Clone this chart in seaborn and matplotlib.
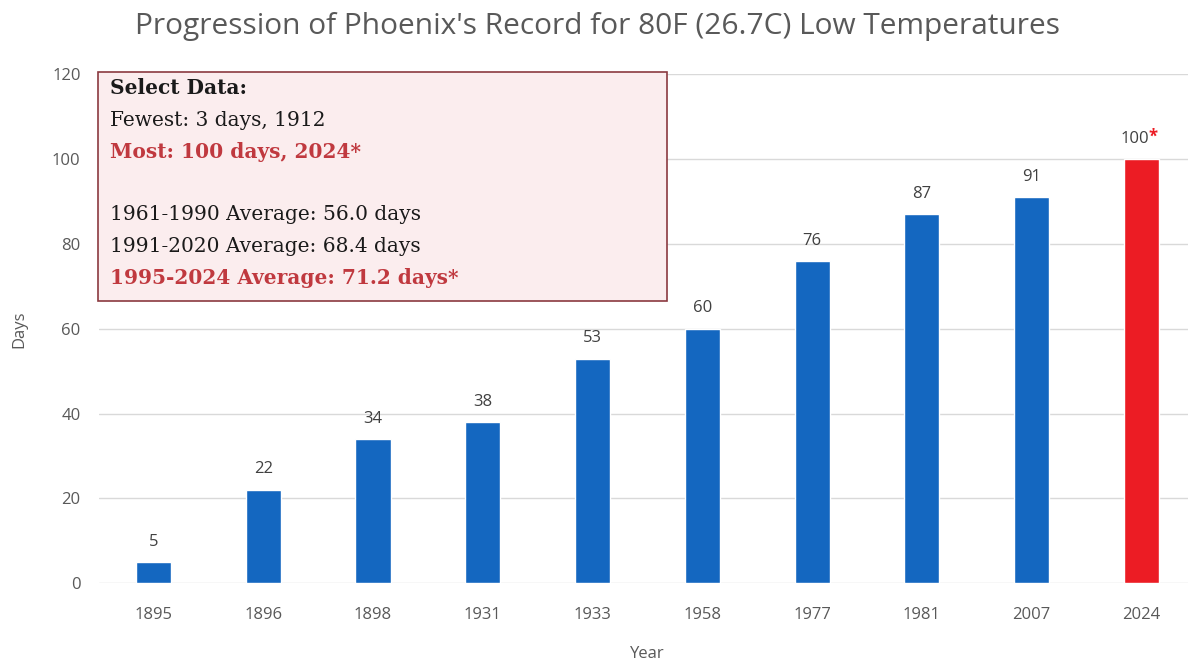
import matplotlib
matplotlib.use("Agg")
import matplotlib.pyplot as plt
import seaborn as sns
import pandas as pd

# Data
years = ["1895", "1896", "1898", "1931", "1933", "1958", "1977", "1981", "2007", "2024"]
days = [5, 22, 34, 38, 53, 60, 76, 87, 91, 100]
bar_colors = ["#1467C0"] * 9 + ["#EC1C24"]

note_lines = [
    ("Select Data:", "#1a1a1a", "bold"),
    ("Fewest: 3 days, 1912", "#1a1a1a", "normal"),
    ("Most: 100 days, 2024*", "#C0393F", "bold"),
    ("", "#1a1a1a", "normal"),
    ("1961-1990 Average: 56.0 days", "#1a1a1a", "normal"),
    ("1991-2020 Average: 68.4 days", "#1a1a1a", "normal"),
    ("1995-2024 Average: 71.2 days*", "#C0393F", "bold"),
]

df = pd.DataFrame({"Year": years, "Days": days})

sns.set_theme(style="white")
plt.rcParams["font.family"] = ["Open Sans", "DejaVu Sans"]

fig = plt.figure(figsize=(11.88, 6.65), dpi=100)
ax = fig.add_axes([0.083, 0.123, 0.924, 0.765])

sns.barplot(data=df, x="Year", y="Days", hue="Year", palette=bar_colors,
            legend=False, width=0.32, saturation=1, ax=ax)

ax.set_ylim(0, 120)
ax.set_yticks(range(0, 121, 20))
ax.yaxis.grid(True, color="#D9D9D9", linewidth=1)
ax.set_axisbelow(True)
for s in ax.spines.values():
    s.set_visible(False)
ax.tick_params(axis="both", length=0, labelsize=12, colors="#595959")
ax.tick_params(axis="x", pad=17)
ax.tick_params(axis="y", pad=13)
ax.set_xlabel("Year", fontsize=12, color="#595959", labelpad=17)
ax.set_ylabel("Days", fontsize=12, color="#595959", labelpad=18)

# value labels
for i, cont in enumerate(ax.containers):
    if i < len(years) - 1:
        ax.bar_label(cont, fmt="%d", padding=9, fontsize=12, color="#404040")
    else:
        ax.annotate(str(days[i]), (i, days[i]), xytext=(-5, 9), textcoords="offset points",
                    ha="center", va="bottom", fontsize=12, color="#404040")
        ax.annotate("*", (i, days[i]), xytext=(8, 10), textcoords="offset points",
                    ha="center", va="bottom", fontsize=12, color="#EC1C24", fontweight="bold")

fig.suptitle("Progression of Phoenix's Record for 80F (26.7C) Low Temperatures",
             x=0.503, y=0.982, fontsize=21.5, color="#595959")

# info box
box = plt.Rectangle((-0.505, 66.5), 5.18, 54.0, facecolor="#FBEDEE", edgecolor="#8B3A40",
                    linewidth=1.2, zorder=3, clip_on=False)
ax.add_patch(box)
y0 = 116.7
step = 7.45
for k, (txt, col, wt) in enumerate(note_lines):
    if txt:
        ax.text(-0.4, y0 - k * step, txt, fontsize=14.5, color=col, fontweight=wt,
                family=["DejaVu Serif"], va="center", ha="left", zorder=4)

fig.savefig("out.png", dpi=100)
